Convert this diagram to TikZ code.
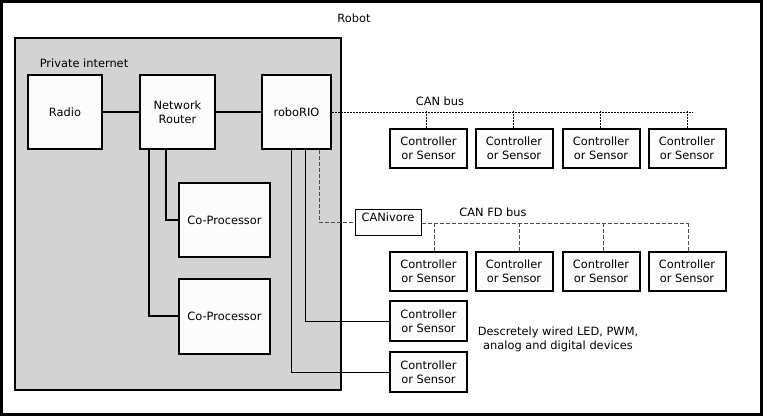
\documentclass[tikz,border=0pt]{standalone}
\usepackage{fontspec}
\setmainfont{DejaVu Sans}
\usetikzlibrary{calc}
\definecolor{boxgray}{HTML}{D3D3D3}
\definecolor{boxwhite}{HTML}{FCFCFC}
\begin{document}
\begin{tikzpicture}[x=1pt,y=-1pt,
  every node/.style={font=\fontsize{11.4}{14.3}\selectfont, inner sep=0pt},
  box/.style={draw, line width=2pt, fill=boxwhite, align=center},
  dev/.style={box, minimum width=77pt, minimum height=39pt},
  link/.style={line width=2pt},
  wire/.style={line width=1pt},
  canbus/.style={line width=0.9pt, dash pattern=on 2pt off 1pt},
  fdbus/.style={line width=0.9pt, dash pattern=on 4pt off 2pt, black!70}
]
\path[use as bounding box] (0,0) rectangle (763,416);
\draw[line width=3pt] (1.5,1.5) rectangle (761.5,414.5);
\node (robot) at (354,18) {Robot};
\draw[line width=2pt, fill=boxgray] (15,38) rectangle (341,390);
\node (priv) at (84,63) {Private internet};

\node[box, minimum width=74pt, minimum height=74pt] (radio) at (65,112) {Radio};
\node[box, minimum width=75pt, minimum height=74pt] (router) at (177.5,112) {Network\\Router};
\node[box, minimum width=69pt, minimum height=74pt] (rio) at (296.5,112) {roboRIO};
\node[box, minimum width=91pt, minimum height=74pt] (cop1) at (224.5,220) {Co-Processor};
\node[box, minimum width=91pt, minimum height=75pt] (cop2) at (224.5,316) {Co-Processor};

\draw[link] (radio.east) -- (router.west);
\draw[link] (router.east) -- (rio.west);
\draw[link] ($(router.south west)+(9.5,0)$) |- (cop2.west);
\draw[link] ($(router.south west)+(27,0)$) |- (cop1.west);

% CAN bus row
\node[dev] (a1) at (428.5,148.5) {Controller\\or Sensor};
\node[dev] (a2) at (514,148.5) {Controller\\or Sensor};
\node[dev] (a3) at (601,148.5) {Controller\\or Sensor};
\node[dev] (a4) at (687,148.5) {Controller\\or Sensor};
\coordinate (canend) at (693,112);
\node (canlbl) at (440,101) {CAN bus};
\draw[canbus] (rio.east) -- (canend);
\foreach \n/\dx in {a1/-2.5,a2/-1,a3/-1,a4/0.5}
  \draw[canbus] ($(\n.north)+(\dx,0)$) -- ($(\n.north)+(\dx,-17)$);

% CANivore
\node[draw, line width=1pt, fill=boxwhite, minimum width=66pt, minimum height=26pt] (cniv) at (388,222) {};
\node[anchor=north] (cnivlbl) at ($(cniv.north)+(0,4)$) {CANivore};
\draw[fdbus] ($(rio.south east)+(-13,0)$) |- (cniv.west);

% CAN FD row
\node[dev] (b1) at (428.5,271.5) {Controller\\or Sensor};
\node[dev] (b2) at (514,271.5) {Controller\\or Sensor};
\node[dev] (b3) at (601,271.5) {Controller\\or Sensor};
\node[dev] (b4) at (687,271.5) {Controller\\or Sensor};
\coordinate (fdend) at (688,223);
\node (fdlbl) at (493,212) {CAN FD bus};
\draw[fdbus] ($(cniv.east)+(0,1)$) -- (fdend);
\foreach \n/\dx in {b1/5.5,b2/5,b3/2,b4/1}
  \draw[fdbus] ($(\n.north)+(\dx,0)$) -- ($(\n.north)+(\dx,-28.5)$);

% discrete devices
\node[box, minimum width=77pt, minimum height=40pt] (d1) at (428.5,321) {Controller\\or Sensor};
\node[box, minimum width=77pt, minimum height=40pt] (d2) at (428.5,372) {Controller\\or Sensor};
\draw[wire] ($(rio.south west)+(30,0)$) |- (d2.west);
\draw[wire] ($(rio.south west)+(44,0)$) |- (d1.west);
\node[align=center] (disc) at (558,339.5) {Descretely wired LED, PWM,\\analog and digital devices};
\end{tikzpicture}
\end{document}
